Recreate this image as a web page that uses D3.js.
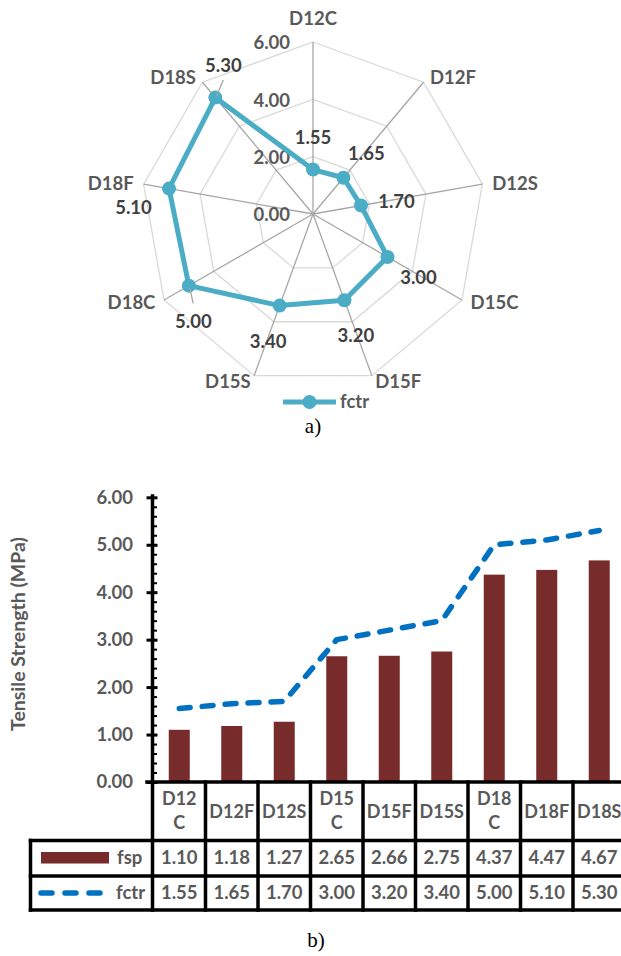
<!DOCTYPE html>
<html><head><meta charset="utf-8">
<script src="https://cdn.jsdelivr.net/npm/d3@7"></script>
<style>
body{margin:0;background:#fff}
svg{display:block}
text{font-family:Lato,"Open Sans",sans-serif;font-weight:700}
</style>
</head><body>
<svg id="c" width="621" height="956"></svg>
<script>
// ---------- DATA ----------
const categories = ["D12C","D12F","D12S","D15C","D15F","D15S","D18C","D18F","D18S"];
const fsp  = [1.10,1.18,1.27,2.65,2.66,2.75,4.37,4.47,4.67];
const fctr = [1.55,1.65,1.70,3.00,3.20,3.40,5.00,5.10,5.30];
const radarTicks = [0,2,4,6];
const barTicks = [0,1,2,3,4,5,6];
const seriesNames = ["fsp","fctr"];

// ---------- LAYOUT ----------
const svg = d3.select("#c");
const fmt = d3.format(".2f");
const GREY = "#595959", DARK = "#404040";
const RADAR = "#4BACC6", BAR = "#772B2B", LINE = "#0070C0";

// ===== a) radar =====
const cx = 313, cy = 214, R = 172;
const r = d3.scaleLinear().domain([0, 6]).range([0, R]);
const n = categories.length;
const ang = i => i * 2 * Math.PI / n;
const pt = (i, v) => [cx + r(v) * Math.sin(ang(i)), cy - r(v) * Math.cos(ang(i))];

const gR = svg.append("g");
radarTicks.filter(t => t > 0).forEach(t => {
  gR.append("polygon")
    .attr("points", categories.map((c, i) => pt(i, t).join(",")).join(" "))
    .attr("fill", "none").attr("stroke", "#d9d9d9").attr("stroke-width", 1.3);
});
categories.forEach((c, i) => {
  const [x2, y2] = pt(i, 6);
  gR.append("line").attr("x1", cx).attr("y1", cy).attr("x2", x2).attr("y2", y2)
    .attr("stroke", "#a6a6a6").attr("stroke-width", 1.3);
});
// axis value labels
radarTicks.forEach(t => {
  gR.append("text").attr("x", cx - 23).attr("y", cy - r(t) + 1).attr("dy", "0.35em")
    .attr("text-anchor", "end").attr("font-size", 18.5).attr("fill", GREY).text(fmt(t));
});
// category labels
categories.forEach((c, i) => {
  const s = Math.sin(ang(i)), co = Math.cos(ang(i));
  const t = gR.append("text").attr("font-size", 18.5).attr("fill", GREY).text(c);
  if (Math.abs(s) < 0.05) {
    t.attr("x", cx).attr("y", cy - (R + 17)).attr("text-anchor", "middle");
  } else {
    t.attr("x", cx + (R + 10) * s).attr("y", cy - (R + 6) * co).attr("dy", "0.35em")
     .attr("text-anchor", s > 0 ? "start" : "end");
  }
});
// series line
gR.append("path")
  .attr("d", d3.line().curve(d3.curveLinearClosed)(fctr.map((v, i) => pt(i, v))))
  .attr("fill", "none").attr("stroke", RADAR).attr("stroke-width", 5).attr("stroke-linejoin", "round");
fctr.forEach((v, i) => {
  const [x, y] = pt(i, v);
  gR.append("circle").attr("cx", x).attr("cy", y).attr("r", 7).attr("fill", RADAR);
});
// data labels (offsets from point)
const labelOff = [[0,-32],[23,-24.5],[35.5,-4],[31,21],[11.5,35.5],[-11.5,36],[4.5,36],[-35.5,18.5],[8,-32]];
const leaders = {6: [[1,2.6],[4.3,17.6]], 8: [[1,-1],[8,-17.6]]};
fctr.forEach((v, i) => {
  const [x, y] = pt(i, v);
  if (leaders[i]) {
    const [a, b] = leaders[i];
    gR.append("line").attr("x1", x + a[0]).attr("y1", y + a[1]).attr("x2", x + b[0]).attr("y2", y + b[1])
      .attr("stroke", "#a6a6a6").attr("stroke-width", 1.3);
  }
  gR.append("text").attr("x", x + labelOff[i][0]).attr("y", y + labelOff[i][1]).attr("dy", "0.35em")
    .attr("text-anchor", "middle").attr("font-size", 18.5).attr("fill", DARK).text(fmt(v));
});
// legend
gR.append("line").attr("x1", 283).attr("x2", 336).attr("y1", 402).attr("y2", 402)
  .attr("stroke", RADAR).attr("stroke-width", 5);
gR.append("circle").attr("cx", 309.5).attr("cy", 402).attr("r", 7).attr("fill", RADAR);
gR.append("text").attr("x", 340).attr("y", 402).attr("dy", "0.35em").attr("font-size", 18.5)
  .attr("fill", GREY).text(seriesNames[1]);

svg.append("text").attr("x", 313).attr("y", 433).attr("text-anchor", "middle")
  .style("font-family", "'Liberation Serif','Times New Roman',serif").style("font-weight", 400)
  .attr("font-size", 21).attr("fill", "#000").text("a)");

// ===== b) bar chart =====
const x = d3.scaleBand().domain(categories).range([153, 625.5]);
const y = d3.scaleLinear().domain([0, 6]).range([782, 497.3]);
const bw = x.bandwidth();
const gB = svg.append("g");

gB.selectAll("rect.bar").data(fsp).join("rect").attr("class", "bar")
  .attr("x", (d, i) => x(categories[i]) + bw * 0.3).attr("width", bw * 0.4)
  .attr("y", d => y(d)).attr("height", d => y(0) - y(d)).attr("fill", BAR);

gB.append("path")
  .attr("d", d3.line().x((d, i) => x(categories[i]) + bw / 2).y(d => y(d))(fctr))
  .attr("fill", "none").attr("stroke", LINE).attr("stroke-width", 5.5)
  .attr("stroke-dasharray", "11,12").attr("stroke-linecap", "round").attr("stroke-linejoin", "round");

// y axis
const yAx = gB.append("g").attr("transform", "translate(152.5,0)")
  .call(d3.axisLeft(y).tickValues(barTicks).tickFormat(fmt).tickSize(6).tickSizeOuter(0).tickPadding(13.5));
yAx.select(".domain").remove();
yAx.selectAll(".tick line").attr("x1", 5).attr("stroke", "#000").attr("stroke-width", 3);
yAx.selectAll(".tick text").attr("font-size", 18.5).attr("fill", GREY)
  .style("font-family", "Lato,'Open Sans',sans-serif").style("font-weight", 700);
const yMin = gB.append("g").attr("transform", "translate(152.5,0)")
  .call(d3.axisRight(y).tickValues(d3.range(0, 30).map(k => k * 0.2)).tickSize(4.5).tickFormat(""));
yMin.select(".domain").remove();
yMin.selectAll(".tick line").attr("stroke", "#000").attr("stroke-width", 2);

gB.append("text").attr("transform", "translate(25,634) rotate(-90)").attr("text-anchor", "middle")
  .attr("font-size", 19.5).attr("fill", GREY).text("Tensile Strength (MPa)");

// table
const rowTop = 782, hdrBot = 840.5, r1Bot = 876, r2Bot = 910;
const black = (x1, y1, x2, y2) => gB.append("line").attr("x1", x1).attr("y1", y1).attr("x2", x2).attr("y2", y2)
  .attr("stroke", "#000").attr("stroke-width", 3.5).attr("stroke-linecap", "square");
black(152.5, 496, 152.5, r2Bot);
black(147, rowTop, 621, rowTop);
black(30.5, hdrBot, 621, hdrBot);
black(30.5, r1Bot, 621, r1Bot);
black(30.5, r2Bot, 621, r2Bot);
black(30.5, hdrBot, 30.5, r2Bot);
categories.forEach((c, i) => { const xx = x(c) + bw; black(xx, rowTop, xx, r2Bot); });

categories.forEach((c, i) => {
  const cxx = x(c) + bw / 2;
  const lines = c.endsWith("C") ? [c.slice(0, 3), c.slice(3)] : [c];
  lines.forEach((l, k) => {
    gB.append("text").attr("x", cxx).attr("y", lines.length === 2 ? 799 + k * 24 : 812).attr("dy", "0.35em")
      .attr("text-anchor", "middle").attr("font-size", 18).attr("fill", GREY).text(l);
  });
  gB.append("text").attr("x", cxx).attr("y", 858).attr("dy", "0.35em").attr("text-anchor", "middle")
    .attr("font-size", 18.5).attr("fill", GREY).text(fmt(fsp[i]));
  gB.append("text").attr("x", cxx).attr("y", 893).attr("dy", "0.35em").attr("text-anchor", "middle")
    .attr("font-size", 18.5).attr("fill", GREY).text(fmt(fctr[i]));
});
// legend keys
gB.append("rect").attr("x", 41).attr("y", 852).attr("width", 68).attr("height", 11.5).attr("fill", BAR);
gB.append("text").attr("x", 117).attr("y", 857.5).attr("dy", "0.35em").attr("font-size", 18.5).attr("fill", GREY).text(seriesNames[0]);
gB.append("line").attr("x1", 41).attr("x2", 101).attr("y1", 893).attr("y2", 893)
  .attr("stroke", LINE).attr("stroke-width", 5.5).attr("stroke-dasharray", "11,13").attr("stroke-linecap", "round");
gB.append("text").attr("x", 116).attr("y", 893).attr("dy", "0.35em").attr("font-size", 18.5).attr("fill", GREY).text(seriesNames[1]);

svg.append("text").attr("x", 316).attr("y", 947).attr("text-anchor", "middle")
  .style("font-family", "'Liberation Serif','Times New Roman',serif").style("font-weight", 400)
  .attr("font-size", 21).attr("fill", "#000").text("b)");
</script>
</body></html>
